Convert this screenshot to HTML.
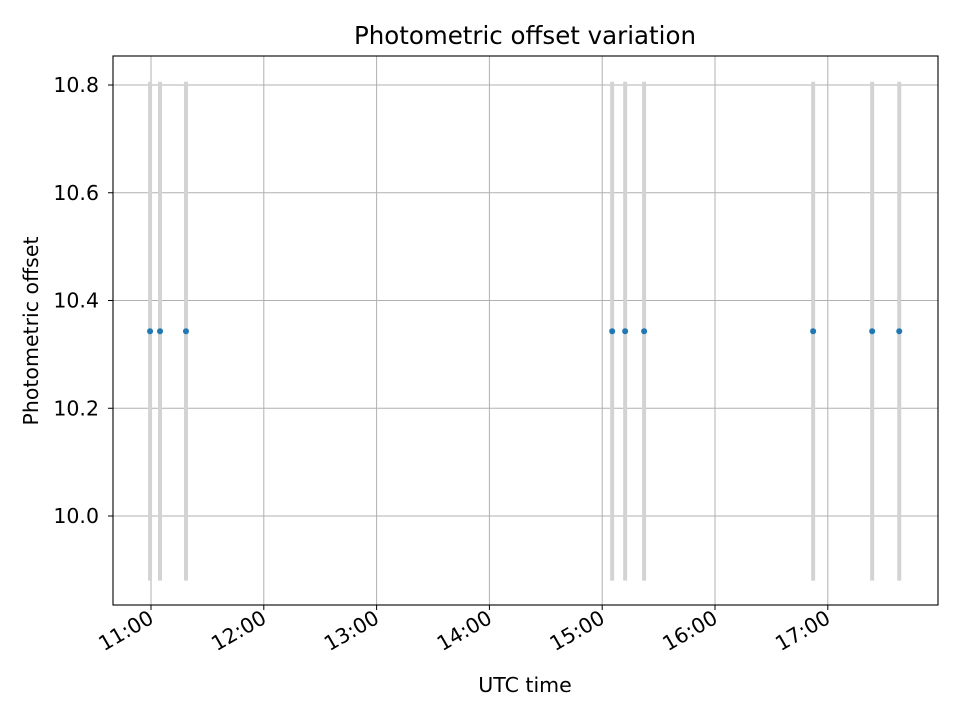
<!DOCTYPE html>
<html><head><meta charset="utf-8"><style>
body{margin:0;background:#fff}
svg text{font-family:"DejaVu Sans","Liberation Sans",sans-serif;fill:#000}
</style></head><body>
<svg id="chart" width="960" height="720" xmlns="http://www.w3.org/2000/svg">
<rect width="960" height="720" fill="#fff"/>
<text x="525" y="44" font-size="24.5" text-anchor="middle">Photometric offset variation</text>
<g id="grid"></g>
<g id="bars"></g>
<g id="points"></g>
<rect x="113" y="56" width="825" height="549" fill="none" stroke="#000" stroke-width="1.1"/>
<g id="axes"></g>
<text x="525" y="692" font-size="20.5" text-anchor="middle">UTC time</text>
<text x="38" y="331" font-size="20.5" text-anchor="middle" transform="rotate(-90 38 331)">Photometric offset</text>
</svg>
<script>
// minutes after 11:00 UTC
const times = [-0.5, 4.8, 18.6, 245.3, 252.2, 262.3, 352.2, 383.6, 398];
const offsets = [10.343, 10.343, 10.343, 10.343, 10.343, 10.343, 10.343, 10.343, 10.343];
const errors = [0.463, 0.463, 0.463, 0.463, 0.463, 0.463, 0.463, 0.463, 0.463];
const xTickLabels = ["11:00","12:00","13:00","14:00","15:00","16:00","17:00"];
const xTickMinutes = [0, 60, 120, 180, 240, 300, 360];
const yTicks = [10.0, 10.2, 10.4, 10.6, 10.8];
const yTickLabels = ["10.0","10.2","10.4","10.6","10.8"];

const NS="http://www.w3.org/2000/svg";
const X = m => 151 + m * (112.8/60);
const Y = v => 516 - (v - 10.0) * (431/0.8);
function mk(tag, attrs, parent){const e=document.createElementNS(NS,tag);for(const k in attrs)e.setAttribute(k,attrs[k]);parent.appendChild(e);return e;}
const grid=document.getElementById('grid'), axes=document.getElementById('axes'), bars=document.getElementById('bars'), pts=document.getElementById('points');

xTickMinutes.forEach((m,i)=>{
  const x=X(m);
  const g=mk('line',{x1:x,x2:x,y1:56,y2:605,stroke:'#b0b0b0','stroke-width':1},grid);
  
  
  const t=mk('line',{x1:x,x2:x,y1:605,y2:610,stroke:'#000','stroke-width':1},axes);
  
  
  const l=mk('text',{x:x+4,y:622,'font-size':20.5,'text-anchor':'end',transform:`rotate(-30 ${x+4} 622)`},axes);
  l.textContent=xTickLabels[i];
  
  
});
yTicks.forEach((v,i)=>{
  const y=Y(v);
  const g=mk('line',{x1:113,x2:938,y1:y,y2:y,stroke:'#b0b0b0','stroke-width':1},grid);
  
  
  const t=mk('line',{x1:108,x2:113,y1:y,y2:y,stroke:'#000','stroke-width':1},axes);
  
  
  const l=mk('text',{x:99,y:y+7,'font-size':20.5,'text-anchor':'end'},axes);
  l.textContent=yTickLabels[i];
  
  
});
times.forEach((m,i)=>{
  const x=X(m);
  const b=mk('line',{x1:x,x2:x,y1:Y(offsets[i]+errors[i]),y2:Y(offsets[i]-errors[i]),stroke:'#d3d3d3','stroke-width':4},bars);
  
  
  const c=mk('circle',{cx:x,cy:Y(offsets[i]),r:3,fill:'#1f77b4'},pts);
  
  
});
</script>
</body></html>
